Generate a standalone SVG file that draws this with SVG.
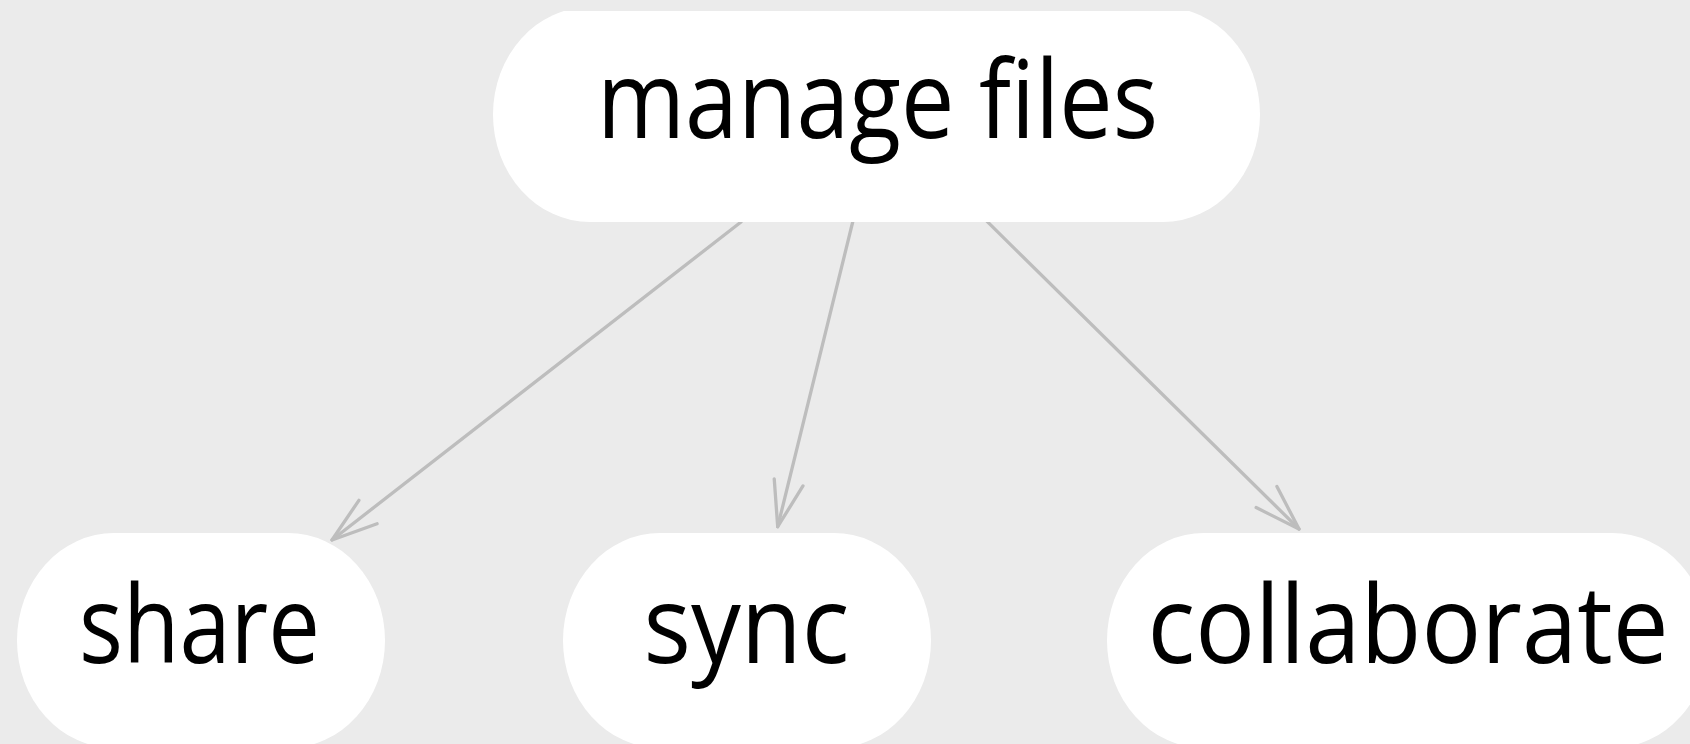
<svg xmlns="http://www.w3.org/2000/svg" width="1690" height="744" viewBox="0 0 1690 744">
  <style>
    .node { fill: #ffffff; }
    .label { font-family: "Open Sans", "Noto Sans", "DejaVu Sans", sans-serif; font-size: 108px; fill: #000000; text-anchor: middle; }
    .edge { stroke: #bdbdbd; stroke-width: 3.3; stroke-linecap: round; fill: none; }
    .head { stroke: #bdbdbd; stroke-width: 3.3; stroke-linecap: round; stroke-linejoin: round; fill: none; }
  </style>
  <defs>
    <clipPath id="panel">
      <rect x="0" y="11" width="1690" height="733"/>
    </clipPath>
    <marker id="arrow" markerUnits="userSpaceOnUse" viewBox="-52 -20 56 40" refX="0" refY="0" markerWidth="56" markerHeight="40" orient="auto">
      <path class="head" d="M -45.6,-14.8 L 0,0 L -45.6,14.8"/>
    </marker>
  </defs>

  <!-- panel background -->
  <rect x="0" y="0" width="1690" height="744" fill="#ebebeb"/>

  <!-- connectors -->
  <g id="edges">
    <line class="edge" x1="741" y1="222" x2="332" y2="540" marker-end="url(#arrow)"/>
    <line class="edge" x1="852.7" y1="222" x2="777.7" y2="526.7" marker-end="url(#arrow)"/>
    <line class="edge" x1="987.3" y1="221.7" x2="1299" y2="529" marker-end="url(#arrow)"/>
  </g>

  <g id="node-manage-files">
    <rect class="node" clip-path="url(#panel)" x="493" y="7" width="767" height="215" rx="97" ry="107.5"/>
    <text class="label" x="877.5" y="137.5" textLength="561" lengthAdjust="spacingAndGlyphs">manage files</text>
  </g>

  <g id="node-share">
    <rect class="node" x="17" y="533" width="368" height="215" rx="97" ry="107.5"/>
    <text class="label" x="199.5" y="663" textLength="241" lengthAdjust="spacingAndGlyphs">share</text>
  </g>

  <g id="node-sync">
    <rect class="node" x="563" y="533" width="368" height="215" rx="97" ry="107.5"/>
    <text class="label" x="746.5" y="663" textLength="206" lengthAdjust="spacingAndGlyphs">sync</text>
  </g>

  <g id="node-collaborate">
    <rect class="node" x="1107" y="533" width="602" height="215" rx="97" ry="107.5"/>
    <text class="label" x="1408" y="663" textLength="521" lengthAdjust="spacingAndGlyphs">collaborate</text>
  </g>
</svg>
